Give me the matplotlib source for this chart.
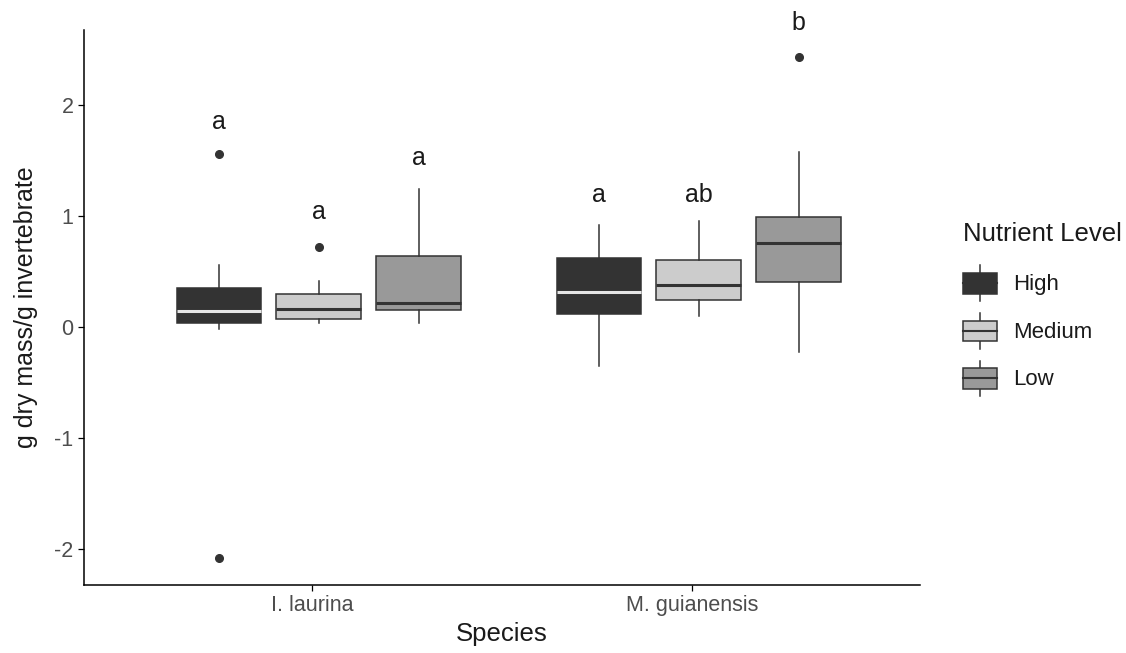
import matplotlib
matplotlib.use("Agg")
import matplotlib.pyplot as plt
from matplotlib.legend_handler import HandlerBase
from matplotlib.patches import Rectangle, Patch
from matplotlib.lines import Line2D

plt.rcParams['font.family'] = ['Liberation Sans', 'DejaVu Sans']
plt.rcParams['axes.unicode_minus'] = False

species = ["I. laurina", "M. guianensis"]
levels = ["High", "Medium", "Low"]

# box statistics, [species][level]
whislo = [[-0.01, 0.04, 0.04], [-0.35, 0.105, -0.22]]
q1 = [[0.04, 0.075, 0.153], [0.12, 0.25, 0.408]]
med = [[0.144, 0.165, 0.219], [0.324, 0.387, 0.763]]
q3 = [[0.358, 0.303, 0.643], [0.628, 0.61, 0.994]]
whishi = [[0.567, 0.417, 1.249], [0.919, 0.958, 1.58]]
outliers = [[[1.565, -2.08], [0.724], []], [[], [], [2.435]]]

# significance letters
letters = [["a", "a", "a"], ["a", "ab", "b"]]
letter_y = [[1.85, 1.04, 1.53], [1.19, 1.19, 2.74]]

fills = ["#333333", "#cccccc", "#999999"]
median_cols = ["#e6e6e6", "#333333", "#333333"]
edge = "#333333"

dodge = 0.2625
box_w = 0.223
shift = 0.018  # boxes sit slightly right of the ticks in the original

fig = plt.figure(figsize=(11.26, 6.53), dpi=100)
ax = fig.add_axes([84 / 1126, 68 / 653, (920 - 84) / 1126, (585 - 30) / 653])

for i in range(len(species)):
    for j in range(len(levels)):
        st = dict(whislo=whislo[i][j], q1=q1[i][j], med=med[i][j],
                  q3=q3[i][j], whishi=whishi[i][j], fliers=outliers[i][j])
        pos = i + 1 + (j - 1) * dodge + shift
        ax.bxp([st], positions=[pos], widths=box_w, patch_artist=True,
               showcaps=False, manage_ticks=False,
               boxprops=dict(facecolor=fills[j], edgecolor=edge, linewidth=1.1),
               medianprops=dict(color=median_cols[j], linewidth=2.2),
               whiskerprops=dict(color=edge, linewidth=1.1),
               flierprops=dict(marker='o', markerfacecolor=edge, markeredgecolor=edge,
                               markersize=5.5))
        ax.text(pos, letter_y[i][j], letters[i][j], ha='center', va='center',
                fontsize=18, color='#1a1a1a')

ax.set_xlim(0.4, 2.6)
ax.set_ylim(-2.32, 2.68)
ax.set_xticks([1, 2])
ax.set_xticklabels(species)
ax.set_yticks([-2, -1, 0, 1, 2])
ax.tick_params(axis='both', labelsize=15.5, labelcolor='#4d4d4d', length=4, width=0.9)
for s in ['top', 'right']:
    ax.spines[s].set_visible(False)
for s in ['left', 'bottom']:
    ax.spines[s].set_linewidth(1.1)
ax.set_xlabel("Species", fontsize=18.5, color='#1a1a1a', labelpad=4)
ax.set_ylabel("g dry mass/g invertebrate", fontsize=18, color='#1a1a1a', labelpad=12)


class BoxKey(HandlerBase):
    def __init__(self, fill, medcol):
        super().__init__()
        self.fill = fill
        self.medcol = medcol

    def create_artists(self, legend, orig_handle, xdescent, ydescent,
                       width, height, fontsize, trans):
        x0, y0 = -xdescent, -ydescent
        cx = x0 + width / 2
        bh = height * 0.57
        by = y0 + (height - bh) / 2
        wl = Line2D([cx, cx], [y0, y0 + height], color=edge, lw=1.1, transform=trans)
        rect = Rectangle((x0, by), width, bh, facecolor=self.fill, edgecolor=edge,
                         lw=1.1, transform=trans)
        ml = Line2D([x0, x0 + width], [y0 + height / 2] * 2, color=self.medcol,
                    lw=1.5, transform=trans)
        return [wl, rect, ml]


handles = [Patch(label=l) for l in levels]
hmap = {h: BoxKey(fills[k], median_cols[k] if k > 0 else fills[k]) for k, h in enumerate(handles)}
leg = fig.legend(handles=handles, labels=levels, handler_map=hmap,
                 title="Nutrient Level", loc='upper left',
                 bbox_to_anchor=(963 / 1126, 1 - 222 / 653), frameon=False,
                 fontsize=16, title_fontsize=18.5, alignment='left',
                 handlelength=1.52, handleheight=2.1, labelspacing=0.53,
                 handletextpad=0.75, borderpad=0, borderaxespad=0)
leg._legend_box.sep = 14
leg._legend_handle_box.get_children()[0].align = 'baseline'
for t in leg.get_texts():
    t.set_color('#1a1a1a')
leg.get_title().set_color('#1a1a1a')

fig.savefig("out.png", dpi=100)
